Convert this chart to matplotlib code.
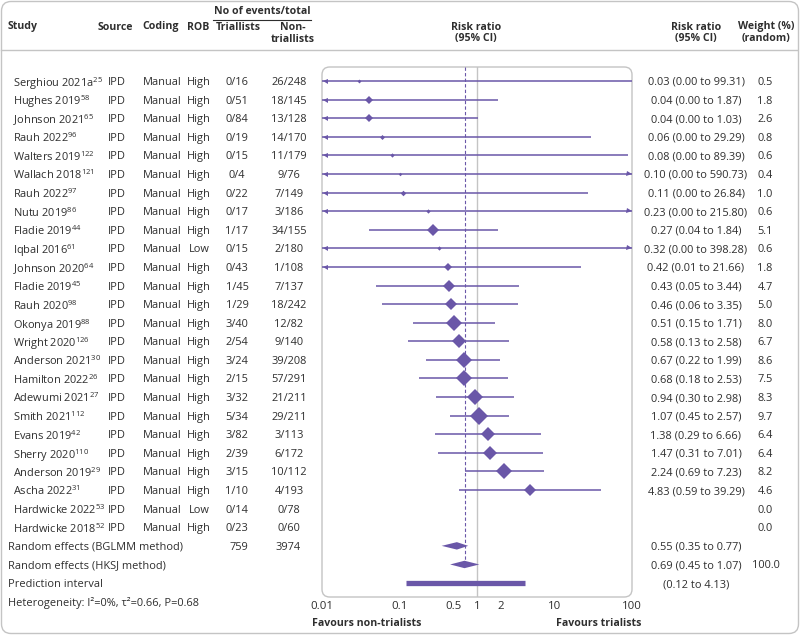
import numpy as np
import matplotlib.pyplot as plt
from matplotlib.patches import FancyBboxPatch
from matplotlib.lines import Line2D
from matplotlib.transforms import blended_transform_factory

plt.rcParams['font.family'] = ['Open Sans', 'DejaVu Sans']
plt.rcParams['mathtext.fontset'] = 'custom'
plt.rcParams['mathtext.rm'] = 'Open Sans'

# study data
studies = ["Serghiou 2021a", "Hughes 2019", "Johnson 2021", "Rauh 2022", "Walters 2019",
           "Wallach 2018", "Rauh 2022", "Nutu 2019", "Fladie 2019", "Iqbal 2016",
           "Johnson 2020", "Fladie 2019", "Rauh 2020", "Okonya 2019", "Wright 2020",
           "Anderson 2021", "Hamilton 2022", "Adewumi 2021", "Smith 2021", "Evans 2019",
           "Sherry 2020", "Anderson 2019", "Ascha 2022", "Hardwicke 2022", "Hardwicke 2018"]
refs = [25, 58, 65, 96, 122, 121, 97, 86, 44, 61, 64, 45, 98, 88, 126, 30, 26, 27, 112, 42,
        110, 29, 31, 53, 52]
rob = ["High"] * 25
rob[9] = "Low"
rob[23] = "Low"
triallists = ["0/16", "0/51", "0/84", "0/19", "0/15", "0/4", "0/22", "0/17", "1/17", "0/15",
              "0/43", "1/45", "1/29", "3/40", "2/54", "3/24", "2/15", "3/32", "5/34", "3/82",
              "2/39", "3/15", "1/10", "0/14", "0/23"]
non_triallists = ["26/248", "18/145", "13/128", "14/170", "11/179", "9/76", "7/149", "3/186",
                  "34/155", "2/180", "1/108", "7/137", "18/242", "12/82", "9/140", "39/208",
                  "57/291", "21/211", "29/211", "3/113", "6/172", "10/112", "4/193", "0/78", "0/60"]
rr = [0.03, 0.04, 0.04, 0.06, 0.08, 0.10, 0.11, 0.23, 0.27, 0.32, 0.42, 0.43, 0.46, 0.51,
      0.58, 0.67, 0.68, 0.94, 1.07, 1.38, 1.47, 2.24, 4.83]
lo = [0.00, 0.00, 0.00, 0.00, 0.00, 0.00, 0.00, 0.00, 0.04, 0.00, 0.01, 0.05, 0.06, 0.15,
      0.13, 0.22, 0.18, 0.30, 0.45, 0.29, 0.31, 0.69, 0.59]
hi = [99.31, 1.87, 1.03, 29.29, 89.39, 590.73, 26.84, 215.80, 1.84, 398.28, 21.66, 3.44,
      3.35, 1.71, 2.58, 1.99, 2.53, 2.98, 2.57, 6.66, 7.01, 7.23, 39.29]
weight = [0.5, 1.8, 2.6, 0.8, 0.6, 0.4, 1.0, 0.6, 5.1, 0.6, 1.8, 4.7, 5.0, 8.0, 6.7, 8.6,
          7.5, 8.3, 9.7, 6.4, 6.4, 8.2, 4.6, 0.0, 0.0]

bglmm = (0.55, 0.35, 0.77)
hksj = (0.69, 0.45, 1.07)
pred = (0.12, 4.13)
total_tri, total_non = 759, 3974

xticks = [0.01, 0.1, 0.5, 1, 2, 10, 100]
xticklabels = ["0.01", "0.1", "0.5", "1", "2", "10", "100"]

W, H = 800, 635
purple = '#6a57a8'
txt = '#2e2e2e'
grey = '#c4c4c4'
fs = 7.9      # table text
hfs = 7.6     # bold headers

fig = plt.figure(figsize=(W / 100, H / 100), dpi=100)
ax = fig.add_axes([322 / W, 1 - 597 / H, 310 / W, 530 / H])
ax.set_xscale('log')
ax.set_xlim(0.01, 100)
ax.set_ylim(27.75, -0.75)
for s in ax.spines.values():
    s.set_visible(False)
ax.set_yticks([])
ax.set_xticks(xticks)
ax.set_xticklabels(xticklabels)
ax.xaxis.set_minor_locator(plt.NullLocator())
ax.tick_params(axis='x', length=0, pad=3, labelsize=8.2, labelcolor=txt)

# panel box
ax.add_patch(FancyBboxPatch((0, 0), 1, 1, boxstyle="round,pad=0,rounding_size=0.025",
                            mutation_aspect=310 / 530, transform=ax.transAxes,
                            fill=False, ec=grey, lw=1, clip_on=False))
ax.axvline(1, color=grey, lw=1, zorder=1)
ax.vlines(hksj[0], -0.75, 26, colors=purple, linestyles=(0, (3, 2)), lw=0.8, zorder=1)

# study rows
for i in range(len(rr)):
    a = max(lo[i], 0.01)
    b = min(hi[i], 100)
    ax.plot([a, b], [i, i], color=purple, lw=1.1, solid_capstyle='butt', zorder=2)
    if lo[i] <= 0.01:
        ax.plot(0.0108, i, marker='<', ms=3.6, color=purple, mew=0, zorder=3)
    if hi[i] > 100:
        ax.plot(92, i, marker='>', ms=3.6, color=purple, mew=0, zorder=3)
    ms = 5.1 * np.sqrt(weight[i]) * 0.72 / 1.3
    ax.plot(rr[i], i, marker='D', ms=ms, color=purple, mew=0, zorder=4)

# summary diamonds and prediction interval
for row, (m, l, u) in [(25, bglmm), (26, hksj)]:
    ax.fill([l, m, u, m], [row, row - 0.2, row, row + 0.2], color=purple, lw=0, zorder=4)
ax.plot(pred, [27, 27], color=purple, lw=3.8, solid_capstyle='butt', zorder=4)

# table text
tr = blended_transform_factory(fig.transFigure, ax.transData)


def rowtext(px, row, s, ha='left', **kw):
    ax.text(px / W, row, s, transform=tr, ha=ha, va='center_baseline', fontsize=fs,
            color=txt, clip_on=False, **kw)


for i, name in enumerate(studies):
    rowtext(13, i, name + r"$\mathregular{^{%d}}$" % refs[i])
    rowtext(108, i, "IPD")
    rowtext(143, i, "Manual")
    rowtext(199, i, rob[i], ha='center')
    rowtext(237, i, triallists[i], ha='center')
    rowtext(289, i, non_triallists[i], ha='center')
    if i < len(rr):
        rowtext(696, i, "%.2f (%.2f to %.2f)" % (rr[i], lo[i], hi[i]), ha='center')
    rowtext(765, i, "%.1f" % weight[i], ha='center')

rowtext(8, 25, "Random effects (BGLMM method)")
rowtext(239, 25, str(total_tri), ha='center')
rowtext(288, 25, str(total_non), ha='center')
rowtext(696, 25, "%.2f (%.2f to %.2f)" % bglmm, ha='center')
rowtext(8, 26, "Random effects (HKSJ method)")
rowtext(696, 26, "%.2f (%.2f to %.2f)" % hksj, ha='center')
rowtext(766, 26, "100.0", ha='center')
rowtext(8, 27, "Prediction interval")
rowtext(696, 27, "(%.2f to %.2f)" % pred, ha='center')
rowtext(8, 28, "Heterogeneity: I²=0%, τ²=0.66, P=0.68")


# headers
def ftext(px, py, s, ha='left', **kw):
    fig.text(px / W, 1 - py / H, s, ha=ha, va='center', fontsize=hfs, color=txt,
             fontweight='bold', **kw)


ftext(8, 27, "Study")
ftext(98, 27, "Source")
ftext(142, 27, "Coding")
ftext(187, 27, "ROB")
ftext(238, 27, "Triallists", ha='center')
ftext(262, 12, "No of events/total", ha='center')
ftext(293, 27, "Non-", ha='center')
ftext(293, 39, "triallists", ha='center')
ftext(476, 27, "Risk ratio", ha='center')
ftext(476, 39, "(95% CI)", ha='center')
ftext(696, 27, "Risk ratio", ha='center')
ftext(696, 39, "(95% CI)", ha='center')
ftext(766, 27, "Weight (%)", ha='center')
ftext(766, 39, "(random)", ha='center')
ftext(312, 624, "Favours non-trialists")
ftext(641, 624, "Favours trialists", ha='right')

fig.add_artist(Line2D([213 / W, 311 / W], [1 - 19.5 / H] * 2, color=txt, lw=0.8))
fig.add_artist(Line2D([1 / W, 797 / W], [1 - 50 / H] * 2, color=grey, lw=1))
fig.add_artist(FancyBboxPatch((1.5 / W, 1.5 / H), 1 - 3 / W, 1 - 3 / H,
                              boxstyle="round,pad=0,rounding_size=0.012",
                              mutation_aspect=W / H, transform=fig.transFigure,
                              fill=False, ec=grey, lw=1))

fig.savefig("out.png", dpi=100)
